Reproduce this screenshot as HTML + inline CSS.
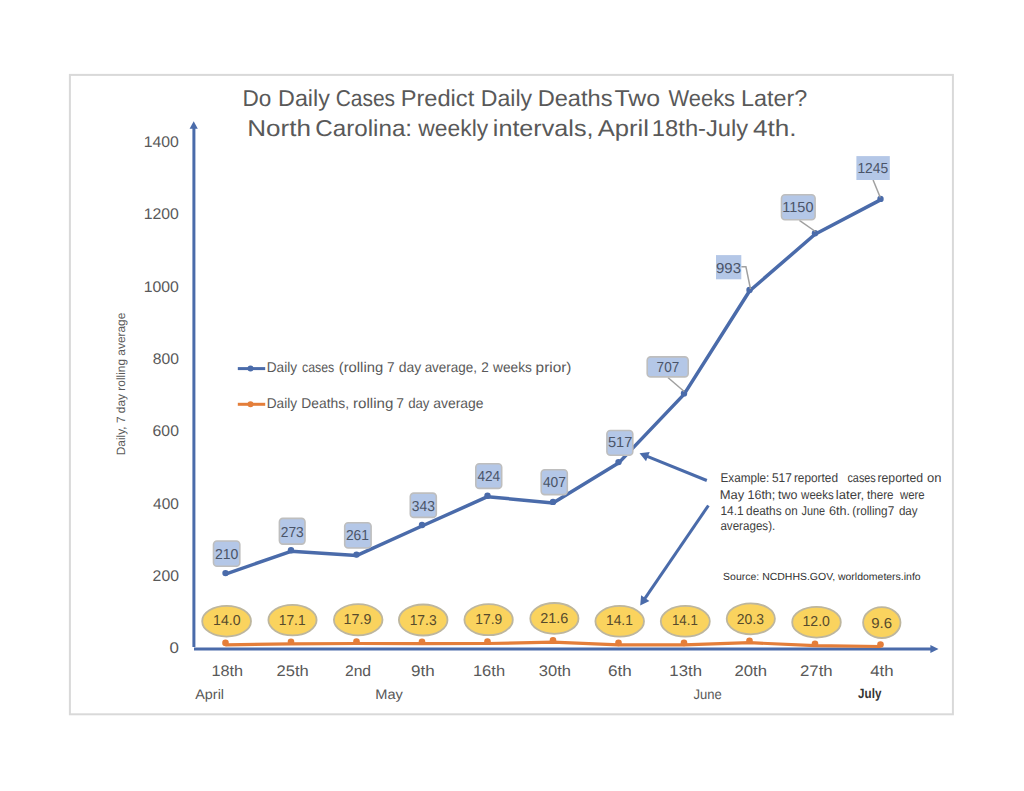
<!DOCTYPE html>
<html><head><meta charset="utf-8"><style>
html,body{margin:0;padding:0;background:#fff;width:1024px;height:791px;overflow:hidden}
svg{display:block;font-family:"Liberation Sans",sans-serif;text-rendering:geometricPrecision}
</style></head><body>
<svg width="1024" height="791" viewBox="0 0 1024 791">
<rect x="69.9" y="74.9" width="883" height="639.4" fill="none" stroke="#D9D9D9" stroke-width="2"/>
<text x="242.45" y="106.00" font-size="23.00" fill="#595959" textLength="28.79" lengthAdjust="spacingAndGlyphs">Do</text>
<text x="278.09" y="106.00" font-size="23.00" fill="#595959" textLength="51.76" lengthAdjust="spacingAndGlyphs">Daily</text>
<text x="335.64" y="106.00" font-size="23.00" fill="#595959" textLength="59.42" lengthAdjust="spacingAndGlyphs">Cases</text>
<text x="400.66" y="106.00" font-size="23.00" fill="#595959" textLength="73.61" lengthAdjust="spacingAndGlyphs">Predict</text>
<text x="480.81" y="106.00" font-size="23.00" fill="#595959" textLength="51.34" lengthAdjust="spacingAndGlyphs">Daily</text>
<text x="537.66" y="106.00" font-size="23.00" fill="#595959" textLength="74.79" lengthAdjust="spacingAndGlyphs">Deaths</text>
<text x="614.46" y="106.00" font-size="23.00" fill="#595959" textLength="45.66" lengthAdjust="spacingAndGlyphs">Two</text>
<text x="668.60" y="106.00" font-size="23.00" fill="#595959" textLength="66.48" lengthAdjust="spacingAndGlyphs">Weeks</text>
<text x="740.98" y="106.00" font-size="23.00" fill="#595959" textLength="66.29" lengthAdjust="spacingAndGlyphs">Later?</text>
<text x="247.26" y="136.30" font-size="23.00" fill="#595959" textLength="63.73" lengthAdjust="spacingAndGlyphs">North</text>
<text x="315.37" y="136.30" font-size="23.00" fill="#595959" textLength="96.73" lengthAdjust="spacingAndGlyphs">Carolina:</text>
<text x="418.33" y="136.30" font-size="23.00" fill="#595959" textLength="69.81" lengthAdjust="spacingAndGlyphs">weekly</text>
<text x="492.82" y="136.30" font-size="23.00" fill="#595959" textLength="100.64" lengthAdjust="spacingAndGlyphs">intervals,</text>
<text x="597.75" y="136.30" font-size="23.00" fill="#595959" textLength="51.26" lengthAdjust="spacingAndGlyphs">April</text>
<text x="651.89" y="136.30" font-size="23.00" fill="#595959" textLength="96.36" lengthAdjust="spacingAndGlyphs">18th-July</text>
<text x="753.00" y="136.30" font-size="23.00" fill="#595959" textLength="43.59" lengthAdjust="spacingAndGlyphs">4th.</text>
<text x="143.69" y="147.00" font-size="15.40" fill="#595959" textLength="35.22" lengthAdjust="spacingAndGlyphs">1400</text>
<text x="143.69" y="219.30" font-size="15.40" fill="#595959" textLength="35.22" lengthAdjust="spacingAndGlyphs">1200</text>
<text x="143.69" y="291.60" font-size="15.40" fill="#595959" textLength="35.22" lengthAdjust="spacingAndGlyphs">1000</text>
<text x="152.72" y="363.90" font-size="15.40" fill="#595959" textLength="26.20" lengthAdjust="spacingAndGlyphs">800</text>
<text x="152.60" y="436.20" font-size="15.40" fill="#595959" textLength="26.32" lengthAdjust="spacingAndGlyphs">600</text>
<text x="153.04" y="508.50" font-size="15.40" fill="#595959" textLength="25.86" lengthAdjust="spacingAndGlyphs">400</text>
<text x="152.61" y="580.80" font-size="15.40" fill="#595959" textLength="26.31" lengthAdjust="spacingAndGlyphs">200</text>
<text x="169.54" y="653.10" font-size="15.40" fill="#595959" textLength="9.42" lengthAdjust="spacingAndGlyphs">0</text>
<g transform="translate(124.7,0) rotate(-90)"><text x="-455.27" y="0.00" font-size="12.00" fill="#595959" textLength="142.60" lengthAdjust="spacingAndGlyphs">Daily, 7 day rolling average</text></g>
<line x1="193.9" y1="647" x2="193.9" y2="128" stroke="#4A6BAA" stroke-width="3"/>
<polygon points="193.7,121.2 189.6,128.8 197.8,128.8" fill="#4A6BAA"/>
<line x1="194" y1="649.1" x2="931" y2="649.1" stroke="#4A6BAA" stroke-width="3"/>
<polygon points="938.5,649.1 930.4,645.1 930.4,653.1" fill="#4A6BAA"/>
<polyline points="225.5,644.9 291.0,643.8 356.5,643.5 422.0,643.7 487.5,643.5 553.0,642.2 618.5,644.9 684.0,644.9 749.5,642.7 815.0,645.7 880.5,646.5" fill="none" stroke="#E47E3A" stroke-width="3.2" stroke-linejoin="round"/>
<circle cx="225.5" cy="642.9" r="3.3" fill="#E47E3A"/>
<circle cx="291.0" cy="641.8" r="3.3" fill="#E47E3A"/>
<circle cx="356.5" cy="641.5" r="3.3" fill="#E47E3A"/>
<circle cx="422.0" cy="641.7" r="3.3" fill="#E47E3A"/>
<circle cx="487.5" cy="641.5" r="3.3" fill="#E47E3A"/>
<circle cx="553.0" cy="640.2" r="3.3" fill="#E47E3A"/>
<circle cx="618.5" cy="642.9" r="3.3" fill="#E47E3A"/>
<circle cx="684.0" cy="642.9" r="3.3" fill="#E47E3A"/>
<circle cx="749.5" cy="640.7" r="3.3" fill="#E47E3A"/>
<circle cx="815.0" cy="643.7" r="3.3" fill="#E47E3A"/>
<circle cx="880.5" cy="644.5" r="3.3" fill="#E47E3A"/>
<polyline points="225.5,574.1 291.0,551.3 356.5,555.6 422.0,526.0 487.5,496.7 553.0,502.9 618.5,463.1 684.0,394.4 749.5,291.0 815.0,234.3 880.5,199.9" fill="none" stroke="#4A6BAA" stroke-width="3.5" stroke-linejoin="round"/>
<circle cx="225.5" cy="573.1" r="3.2" fill="#4A6BAA"/>
<circle cx="291.0" cy="550.3" r="3.2" fill="#4A6BAA"/>
<circle cx="356.5" cy="554.6" r="3.2" fill="#4A6BAA"/>
<circle cx="422.0" cy="525.0" r="3.2" fill="#4A6BAA"/>
<circle cx="487.5" cy="495.7" r="3.2" fill="#4A6BAA"/>
<circle cx="553.0" cy="501.9" r="3.2" fill="#4A6BAA"/>
<circle cx="618.5" cy="462.1" r="3.2" fill="#4A6BAA"/>
<circle cx="684.0" cy="393.4" r="3.2" fill="#4A6BAA"/>
<circle cx="749.5" cy="290.0" r="3.2" fill="#4A6BAA"/>
<circle cx="815.0" cy="233.3" r="3.2" fill="#4A6BAA"/>
<circle cx="880.5" cy="198.9" r="3.2" fill="#4A6BAA"/>
<polyline points="667.9,377.5 684.2,391.5" fill="none" stroke="#A0A0A0" stroke-width="1.5"/>
<polyline points="741.3,266.7 745.9,266.7 750.5,289" fill="none" stroke="#A0A0A0" stroke-width="1.5"/>
<polyline points="799.4,220.3 815.4,231.5" fill="none" stroke="#A0A0A0" stroke-width="1.5"/>
<polyline points="873.1,180 880.3,197.5" fill="none" stroke="#A0A0A0" stroke-width="1.5"/>
<rect x="213.5" y="541.0" width="26.3" height="25.3" rx="3.5" fill="#B4C7E7" stroke="#BEBEBE" stroke-width="1.6"/>
<text x="214.99" y="558.70" font-size="14.50" fill="#4A5468" textLength="23.46" lengthAdjust="spacingAndGlyphs">210</text>
<rect x="279.4" y="518.4" width="25.6" height="25.7" rx="3.5" fill="#B4C7E7" stroke="#BEBEBE" stroke-width="1.6"/>
<text x="280.81" y="536.60" font-size="14.50" fill="#4A5468" textLength="23.00" lengthAdjust="spacingAndGlyphs">273</text>
<rect x="344.7" y="522.8" width="26.4" height="25.2" rx="3.5" fill="#B4C7E7" stroke="#BEBEBE" stroke-width="1.6"/>
<text x="345.90" y="539.80" font-size="14.50" fill="#4A5468" textLength="23.07" lengthAdjust="spacingAndGlyphs">261</text>
<rect x="410.3" y="493.1" width="26.0" height="24.3" rx="3.5" fill="#B4C7E7" stroke="#BEBEBE" stroke-width="1.6"/>
<text x="411.77" y="510.60" font-size="14.50" fill="#4A5468" textLength="23.14" lengthAdjust="spacingAndGlyphs">343</text>
<rect x="475.8" y="463.8" width="25.9" height="24.6" rx="3.5" fill="#B4C7E7" stroke="#BEBEBE" stroke-width="1.6"/>
<text x="477.49" y="480.70" font-size="14.50" fill="#4A5468" textLength="22.71" lengthAdjust="spacingAndGlyphs">424</text>
<rect x="541.2" y="469.7" width="26.1" height="24.9" rx="3.5" fill="#B4C7E7" stroke="#BEBEBE" stroke-width="1.6"/>
<text x="542.88" y="487.20" font-size="14.50" fill="#4A5468" textLength="23.01" lengthAdjust="spacingAndGlyphs">407</text>
<rect x="606.9" y="430.5" width="25.9" height="24.8" rx="3.5" fill="#B4C7E7" stroke="#BEBEBE" stroke-width="1.6"/>
<text x="608.02" y="447.10" font-size="14.50" fill="#4A5468" textLength="24.32" lengthAdjust="spacingAndGlyphs">517</text>
<rect x="647.2" y="356.9" width="41.0" height="20.0" rx="3.5" fill="#B4C7E7" stroke="#BEBEBE" stroke-width="1.6"/>
<text x="656.61" y="371.90" font-size="14.50" fill="#4A5468" textLength="22.57" lengthAdjust="spacingAndGlyphs">707</text>
<rect x="716.0" y="255.1" width="25.3" height="24.2" fill="#B4C7E7"/>
<text x="716.00" y="272.70" font-size="14.50" fill="#4A5468" textLength="24.96" lengthAdjust="spacingAndGlyphs">993</text>
<rect x="781.5" y="194.8" width="33.6" height="24.9" rx="3.5" fill="#B4C7E7" stroke="#BEBEBE" stroke-width="1.6"/>
<text x="782.33" y="212.00" font-size="14.50" fill="#4A5468" textLength="31.11" lengthAdjust="spacingAndGlyphs">1150</text>
<rect x="856.4" y="156.1" width="33.4" height="23.9" fill="#B4C7E7"/>
<text x="857.45" y="172.80" font-size="14.50" fill="#4A5468" textLength="30.73" lengthAdjust="spacingAndGlyphs">1245</text>
<ellipse cx="226.6" cy="621.2" rx="24.4" ry="15.4" fill="#FAD35E" stroke="#BDB69E" stroke-width="1.8"/>
<text x="213.12" y="625.10" font-size="14.40" fill="#564A2C" textLength="27.53" lengthAdjust="spacingAndGlyphs">14.0</text>
<ellipse cx="292.5" cy="620.1" rx="24.1" ry="15.3" fill="#FAD35E" stroke="#BDB69E" stroke-width="1.8"/>
<text x="278.75" y="625.00" font-size="14.40" fill="#564A2C" textLength="26.82" lengthAdjust="spacingAndGlyphs">17.1</text>
<ellipse cx="358.2" cy="619.8" rx="24.3" ry="15.6" fill="#FAD35E" stroke="#BDB69E" stroke-width="1.8"/>
<text x="343.61" y="624.40" font-size="14.40" fill="#564A2C" textLength="27.76" lengthAdjust="spacingAndGlyphs">17.9</text>
<ellipse cx="423.2" cy="620.0" rx="24.3" ry="15.5" fill="#FAD35E" stroke="#BDB69E" stroke-width="1.8"/>
<text x="409.64" y="625.20" font-size="14.40" fill="#564A2C" textLength="26.96" lengthAdjust="spacingAndGlyphs">17.3</text>
<ellipse cx="488.6" cy="619.7" rx="24.2" ry="15.5" fill="#FAD35E" stroke="#BDB69E" stroke-width="1.8"/>
<text x="475.25" y="624.20" font-size="14.40" fill="#564A2C" textLength="26.91" lengthAdjust="spacingAndGlyphs">17.9</text>
<ellipse cx="554.4" cy="618.4" rx="24.1" ry="15.4" fill="#FAD35E" stroke="#BDB69E" stroke-width="1.8"/>
<text x="540.17" y="622.90" font-size="14.40" fill="#564A2C" textLength="28.16" lengthAdjust="spacingAndGlyphs">21.6</text>
<ellipse cx="619.7" cy="621.3" rx="24.3" ry="15.4" fill="#FAD35E" stroke="#BDB69E" stroke-width="1.8"/>
<text x="605.95" y="625.30" font-size="14.40" fill="#564A2C" textLength="26.93" lengthAdjust="spacingAndGlyphs">14.1</text>
<ellipse cx="685.3" cy="621.3" rx="24.5" ry="15.4" fill="#FAD35E" stroke="#BDB69E" stroke-width="1.8"/>
<text x="671.99" y="625.30" font-size="14.40" fill="#564A2C" textLength="25.86" lengthAdjust="spacingAndGlyphs">14.1</text>
<ellipse cx="750.8" cy="618.8" rx="24.1" ry="15.5" fill="#FAD35E" stroke="#BDB69E" stroke-width="1.8"/>
<text x="736.80" y="624.10" font-size="14.40" fill="#564A2C" textLength="27.11" lengthAdjust="spacingAndGlyphs">20.3</text>
<ellipse cx="816.5" cy="622.2" rx="24.3" ry="15.4" fill="#FAD35E" stroke="#BDB69E" stroke-width="1.8"/>
<text x="802.53" y="626.30" font-size="14.40" fill="#564A2C" textLength="27.42" lengthAdjust="spacingAndGlyphs">12.0</text>
<ellipse cx="881.8" cy="622.6" rx="18.7" ry="15.4" fill="#FAD35E" stroke="#BDB69E" stroke-width="1.8"/>
<text x="871.20" y="627.60" font-size="14.40" fill="#564A2C" textLength="20.86" lengthAdjust="spacingAndGlyphs">9.6</text>
<text x="211.46" y="675.80" font-size="15.30" fill="#595959" textLength="31.70" lengthAdjust="spacingAndGlyphs">18th</text>
<text x="276.57" y="675.80" font-size="15.30" fill="#595959" textLength="32.21" lengthAdjust="spacingAndGlyphs">25th</text>
<text x="344.91" y="675.80" font-size="15.30" fill="#595959" textLength="26.20" lengthAdjust="spacingAndGlyphs">2nd</text>
<text x="411.00" y="675.80" font-size="15.30" fill="#595959" textLength="23.71" lengthAdjust="spacingAndGlyphs">9th</text>
<text x="472.94" y="675.80" font-size="15.30" fill="#595959" textLength="32.13" lengthAdjust="spacingAndGlyphs">16th</text>
<text x="538.87" y="675.80" font-size="15.30" fill="#595959" textLength="32.20" lengthAdjust="spacingAndGlyphs">30th</text>
<text x="607.93" y="675.80" font-size="15.30" fill="#595959" textLength="23.78" lengthAdjust="spacingAndGlyphs">6th</text>
<text x="669.32" y="675.80" font-size="15.30" fill="#595959" textLength="32.67" lengthAdjust="spacingAndGlyphs">13th</text>
<text x="734.46" y="675.80" font-size="15.30" fill="#595959" textLength="32.53" lengthAdjust="spacingAndGlyphs">20th</text>
<text x="800.06" y="675.80" font-size="15.30" fill="#595959" textLength="32.63" lengthAdjust="spacingAndGlyphs">27th</text>
<text x="870.21" y="675.80" font-size="15.30" fill="#595959" textLength="23.38" lengthAdjust="spacingAndGlyphs">4th</text>
<text x="195.27" y="698.90" font-size="13.80" fill="#595959" textLength="28.79" lengthAdjust="spacingAndGlyphs">April</text>
<text x="375.30" y="698.90" font-size="13.80" fill="#595959" textLength="27.63" lengthAdjust="spacingAndGlyphs">May</text>
<text x="693.60" y="698.90" font-size="13.80" fill="#595959" textLength="28.28" lengthAdjust="spacingAndGlyphs">June</text>
<text x="858.12" y="697.90" font-size="13.60" fill="#333333" font-weight="bold" textLength="23.24" lengthAdjust="spacingAndGlyphs">July</text>
<line x1="237.8" y1="368.6" x2="265.2" y2="368.6" stroke="#4A6BAA" stroke-width="3"/>
<circle cx="250.5" cy="368.6" r="3" fill="#4A6BAA"/>
<text x="266.68" y="372.00" font-size="14.10" fill="#595959" textLength="30.35" lengthAdjust="spacingAndGlyphs">Daily</text>
<text x="301.98" y="372.00" font-size="14.10" fill="#595959" textLength="32.27" lengthAdjust="spacingAndGlyphs">cases</text>
<text x="338.78" y="372.00" font-size="14.10" fill="#595959" textLength="44.37" lengthAdjust="spacingAndGlyphs">(rolling</text>
<text x="387.00" y="372.00" font-size="14.10" fill="#595959" textLength="7.59" lengthAdjust="spacingAndGlyphs">7</text>
<text x="398.81" y="372.00" font-size="14.10" fill="#595959" textLength="22.51" lengthAdjust="spacingAndGlyphs">day</text>
<text x="424.63" y="372.00" font-size="14.10" fill="#595959" textLength="52.48" lengthAdjust="spacingAndGlyphs">average,</text>
<text x="481.22" y="372.00" font-size="14.10" fill="#595959" textLength="7.57" lengthAdjust="spacingAndGlyphs">2</text>
<text x="493.12" y="372.00" font-size="14.10" fill="#595959" textLength="38.77" lengthAdjust="spacingAndGlyphs">weeks</text>
<text x="535.61" y="372.00" font-size="14.10" fill="#595959" textLength="35.84" lengthAdjust="spacingAndGlyphs">prior)</text>
<line x1="237.8" y1="404.3" x2="265.2" y2="404.3" stroke="#E47E3A" stroke-width="3"/>
<circle cx="250.5" cy="404.3" r="3" fill="#E47E3A"/>
<text x="266.68" y="408.20" font-size="14.10" fill="#595959" textLength="30.35" lengthAdjust="spacingAndGlyphs">Daily</text>
<text x="301.37" y="408.20" font-size="14.10" fill="#595959" textLength="47.68" lengthAdjust="spacingAndGlyphs">Deaths,</text>
<text x="353.00" y="408.20" font-size="14.10" fill="#595959" textLength="40.28" lengthAdjust="spacingAndGlyphs">rolling</text>
<text x="396.29" y="408.20" font-size="14.10" fill="#595959" textLength="7.71" lengthAdjust="spacingAndGlyphs">7</text>
<text x="408.14" y="408.20" font-size="14.10" fill="#595959" textLength="21.38" lengthAdjust="spacingAndGlyphs">day</text>
<text x="433.16" y="408.20" font-size="14.10" fill="#595959" textLength="50.46" lengthAdjust="spacingAndGlyphs">average</text>
<line x1="706.8" y1="480.5" x2="646.0" y2="455.8" stroke="#4A6BAA" stroke-width="3"/><polygon points="639.5,453.2 649.7,451.9 646.0,461.2" fill="#4A6BAA"/>
<line x1="708.4" y1="505.5" x2="644.1" y2="599.7" stroke="#4A6BAA" stroke-width="3"/><polygon points="640.2,605.5 641.1,595.2 649.4,600.9" fill="#4A6BAA"/>
<text x="720.44" y="481.90" font-size="12.60" fill="#404040" textLength="48.93" lengthAdjust="spacingAndGlyphs">Example:</text>
<text x="771.92" y="481.90" font-size="12.60" fill="#404040" textLength="19.88" lengthAdjust="spacingAndGlyphs">517</text>
<text x="793.91" y="481.90" font-size="12.60" fill="#404040" textLength="44.15" lengthAdjust="spacingAndGlyphs">reported</text>
<text x="847.44" y="481.90" font-size="12.60" fill="#404040" textLength="28.35" lengthAdjust="spacingAndGlyphs">cases</text>
<text x="877.49" y="481.90" font-size="12.60" fill="#404040" textLength="45.60" lengthAdjust="spacingAndGlyphs">reported</text>
<text x="926.95" y="481.90" font-size="12.60" fill="#404040" textLength="14.49" lengthAdjust="spacingAndGlyphs">on</text>
<text x="719.84" y="499.00" font-size="12.60" fill="#404040" textLength="24.49" lengthAdjust="spacingAndGlyphs">May</text>
<text x="747.45" y="499.00" font-size="12.60" fill="#404040" textLength="27.88" lengthAdjust="spacingAndGlyphs">16th;</text>
<text x="778.11" y="499.00" font-size="12.60" fill="#404040" textLength="19.41" lengthAdjust="spacingAndGlyphs">two</text>
<text x="801.12" y="499.00" font-size="12.60" fill="#404040" textLength="32.60" lengthAdjust="spacingAndGlyphs">weeks</text>
<text x="835.84" y="499.00" font-size="12.60" fill="#404040" textLength="28.41" lengthAdjust="spacingAndGlyphs">later,</text>
<text x="867.02" y="499.00" font-size="12.60" fill="#404040" textLength="26.49" lengthAdjust="spacingAndGlyphs">there</text>
<text x="900.02" y="499.00" font-size="12.60" fill="#404040" textLength="24.69" lengthAdjust="spacingAndGlyphs">were</text>
<text x="720.49" y="514.90" font-size="12.60" fill="#404040" textLength="23.19" lengthAdjust="spacingAndGlyphs">14.1</text>
<text x="746.10" y="514.90" font-size="12.60" fill="#404040" textLength="35.52" lengthAdjust="spacingAndGlyphs">deaths</text>
<text x="784.81" y="514.90" font-size="12.60" fill="#404040" textLength="12.94" lengthAdjust="spacingAndGlyphs">on</text>
<text x="801.53" y="514.90" font-size="12.60" fill="#404040" textLength="23.55" lengthAdjust="spacingAndGlyphs">June</text>
<text x="829.06" y="514.90" font-size="12.60" fill="#404040" textLength="21.10" lengthAdjust="spacingAndGlyphs">6th.</text>
<text x="852.37" y="514.90" font-size="12.60" fill="#404040" textLength="41.82" lengthAdjust="spacingAndGlyphs">(rolling7</text>
<text x="898.91" y="514.90" font-size="12.60" fill="#404040" textLength="18.71" lengthAdjust="spacingAndGlyphs">day</text>
<text x="720.41" y="530.00" font-size="12.60" fill="#404040" textLength="54.85" lengthAdjust="spacingAndGlyphs">averages).</text>
<text x="723.13" y="580.20" font-size="10.30" fill="#303030" textLength="197.51" lengthAdjust="spacingAndGlyphs">Source: NCDHHS.GOV, worldometers.info</text>
</svg>
</body></html>
